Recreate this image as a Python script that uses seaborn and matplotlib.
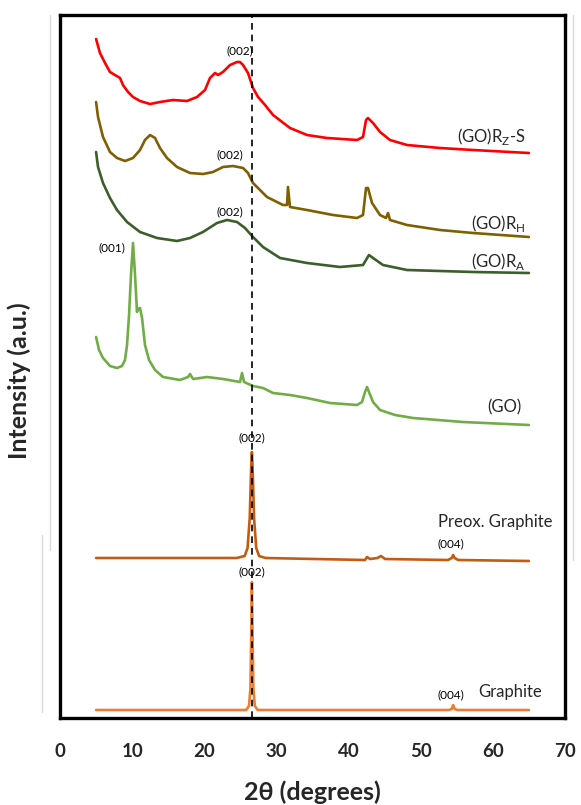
import numpy as np
import pandas as pd
import seaborn as sns
import matplotlib.pyplot as plt
from matplotlib.lines import Line2D

# ---------------- data (2theta in degrees, intensity in arbitrary units, stacked) -------------
rzs_x = [5.0, 5.54, 6.24, 6.93, 7.62, 8.32, 8.73, 9.43, 10.12, 11.09, 12.48, 13.86, 15.66,
         17.60, 18.99, 20.10, 20.79, 21.49, 21.90, 22.59, 23.57, 24.54, 24.95, 25.37, 26.06,
         26.75, 27.45, 28.42, 29.53, 31.88, 34.24, 37.01, 41.17, 42.00, 42.42, 42.69, 43.39,
         44.36, 45.74, 48.10, 52.68, 57.25, 65.0]
rzs_y = [679, 665, 655, 646, 643, 640, 633, 626, 621, 617, 614, 616, 618,
         617, 621, 628, 640, 645, 643, 646, 653, 656, 656, 653, 645,
         630, 621, 613, 603, 590, 583, 580, 578, 581, 598, 600, 595,
         586, 578, 573, 570, 568, 565]

rh_x = [5.0, 5.27, 5.96, 6.93, 7.90, 9.01, 10.12, 11.09, 11.78, 12.48, 13.17, 13.86, 14.83,
        16.22, 18.02, 19.82, 21.21, 22.59, 23.98, 25.37, 26.06, 26.75, 27.72, 28.69, 30.91,
        31.47, 31.60, 31.88, 34.24, 37.84, 41.17, 42.00, 42.42, 42.69, 43.25, 44.36, 45.19,
        45.47, 45.74, 48.10, 52.68, 57.25, 65.0]
rh_y = [616, 601, 581, 566, 560, 557, 560, 568, 578, 583, 580, 570, 560,
        551, 545, 544, 546, 551, 552, 550, 545, 535, 528, 521, 513,
        513, 531, 511, 508, 503, 500, 503, 530, 530, 515, 503, 500,
        505, 498, 493, 488, 485, 481]

ra_x = [5.0, 5.27, 5.96, 6.93, 7.90, 9.29, 11.09, 13.45, 16.22, 18.02, 19.82, 21.76, 23.15,
        24.54, 25.64, 26.75, 28.14, 30.50, 34.24, 38.81, 42.00, 42.83, 43.39, 44.77, 48.10,
        57.25, 65.0]
ra_y = [566, 551, 535, 520, 508, 496, 486, 480, 477, 480, 486, 495, 498,
        496, 490, 481, 471, 460, 455, 451, 453, 463, 460, 453, 448,
        446, 445]

go_x = [5.0, 5.41, 5.96, 6.93, 7.90, 8.59, 9.01, 9.29, 9.57, 9.84, 10.12, 10.40, 10.67,
        10.81, 11.09, 11.37, 11.78, 12.34, 13.17, 14.28, 16.63, 17.74, 18.02, 18.44, 20.38,
        22.60, 24.95, 25.23, 25.51, 26.75, 28.14, 29.53, 31.88, 34.24, 37.43, 41.17, 41.86,
        42.28, 42.56, 42.83, 43.39, 44.36, 46.44, 48.93, 55.86, 65.0]
go_y = [381, 368, 360, 352, 350, 352, 358, 373, 403, 443, 475, 443, 406,
        409, 410, 400, 373, 358, 348, 341, 338, 341, 344, 339, 341,
        339, 336, 345, 336, 332, 330, 325, 323, 320, 315, 313, 316,
        326, 331, 326, 316, 308, 303, 300, 296, 293]

pg_x = [5.0, 24.5, 25.6, 26.0, 26.3, 26.5, 26.6, 26.7, 26.9, 27.2, 27.6, 28.5, 42.28,
        42.56, 42.97, 44.0, 44.5, 45.05, 53.78, 54.3, 54.5, 54.7, 55.2, 65.0]
pg_y = [160, 160, 162, 170, 200, 250, 266, 250, 200, 170, 162, 160, 158,
        161, 159, 160, 162, 159, 158, 160, 163, 160, 158, 157]

gr_x = [5.0, 25.8, 26.2, 26.4, 26.52, 26.6, 26.68, 26.8, 27.0, 27.4, 53.9, 54.3, 54.5,
        54.7, 55.1, 65.0]
gr_y = [8, 8, 12, 30, 90, 136, 90, 30, 12, 8, 8, 9, 13, 9, 8, 8]

samples = ["(GO)Rz-S", "(GO)RH", "(GO)RA", "(GO)", "Preox. Graphite", "Graphite"]
colors = ["#ff0000", "#7f6000", "#3b5e2b", "#70ad47", "#c55a11", "#ed7d31"]
xticks = [0, 10, 20, 30, 40, 50, 60, 70]

series = [(rzs_x, rzs_y), (rh_x, rh_y), (ra_x, ra_y), (go_x, go_y), (pg_x, pg_y), (gr_x, gr_y)]
frames = []
for name, (xs, ys) in zip(samples, series):
    frames.append(pd.DataFrame({"two_theta": xs, "intensity": ys, "sample": name}))
df = pd.concat(frames, ignore_index=True)

# ---------------- figure ----------------
sns.set_theme(style="white")
plt.rcParams['font.family'] = ['Lato', 'DejaVu Sans']
plt.rcParams['mathtext.fontset'] = 'custom'
plt.rcParams['mathtext.rm'] = 'Lato'

fig = plt.figure(figsize=(5.81, 8.05), dpi=100)
ax = fig.add_axes([60 / 581, 87 / 805, 505 / 581, 703 / 805])

sns.lineplot(data=df, x="two_theta", y="intensity", hue="sample", palette=dict(zip(samples, colors)),
             hue_order=samples, sort=False, estimator=None, units="sample", legend=False,
             linewidth=1.9, ax=ax)
for ln in ax.lines:
    ln.set_solid_joinstyle("round")

ax.axvline(26.6, color="black", linestyle=(0, (4, 3)), linewidth=1.2, zorder=5)

ax.set_xlim(0, 70)
ax.set_ylim(0, 703)
ax.set_xticks(xticks)
ax.set_xticklabels([str(t) for t in xticks], fontsize=13.5, fontweight="bold")
ax.set_yticks([])
ax.tick_params(axis="x", length=0, pad=18)
for s in ax.spines.values():
    s.set_color("black")
    s.set_linewidth(2.4)

ax.set_xlabel("2θ (degrees)", fontsize=18, fontweight="bold", labelpad=15)
ax.set_ylabel("Intensity (a.u.)", fontsize=18, fontweight="bold")
ax.yaxis.set_label_coords(-0.058, 0.48)

# peak annotations
small = 8.5
ax.text(25.0, 667, "(002)", fontsize=small, ha="center", va="center", color="black")
ax.text(23.5, 563, "(002)", fontsize=small, ha="center", va="center", color="black")
ax.text(23.5, 506, "(002)", fontsize=small, ha="center", va="center", color="black")
ax.text(7.2, 470, "(001)", fontsize=small, ha="center", va="center", color="black")
ax.text(26.6, 280, "(002)", fontsize=small, ha="center", va="center", color="black")
ax.text(26.6, 146, "(002)", fontsize=small, ha="center", va="center", color="black")
ax.text(54.2, 174, "(004)", fontsize=small, ha="center", va="center", color="black")
ax.text(54.2, 23, "(004)", fontsize=small, ha="center", va="center", color="black")

# sample labels
lab = 12
ax.text(64.6, 581, r"(GO)R$_\mathregular{Z}$-S", fontsize=lab, ha="right", va="center")
ax.text(64.6, 494, r"(GO)R$_\mathregular{H}$", fontsize=lab, ha="right", va="center")
ax.text(64.6, 456, r"(GO)R$_\mathregular{A}$", fontsize=lab, ha="right", va="center")
ax.text(64.0, 311, "(GO)", fontsize=lab, ha="right", va="center")
ax.text(52.4, 196, "Preox. Graphite", fontsize=lab, ha="left", va="center")
ax.text(58.0, 26, "Graphite", fontsize=lab, ha="left", va="center")

# faint frame remnants of the original figure
fig.add_artist(Line2D([50 / 581, 50 / 581], [1 - 15 / 805, 1 - 550 / 805], color="#d9d9d9", lw=1))
fig.add_artist(Line2D([42 / 581, 42 / 581], [1 - 535 / 805, 1 - 712 / 805], color="#d9d9d9", lw=1))
fig.add_artist(Line2D([573 / 581, 573 / 581], [1 - 15 / 805, 1 - 560 / 805], color="#d9d9d9", lw=1))

fig.savefig("out.png", dpi=100)
